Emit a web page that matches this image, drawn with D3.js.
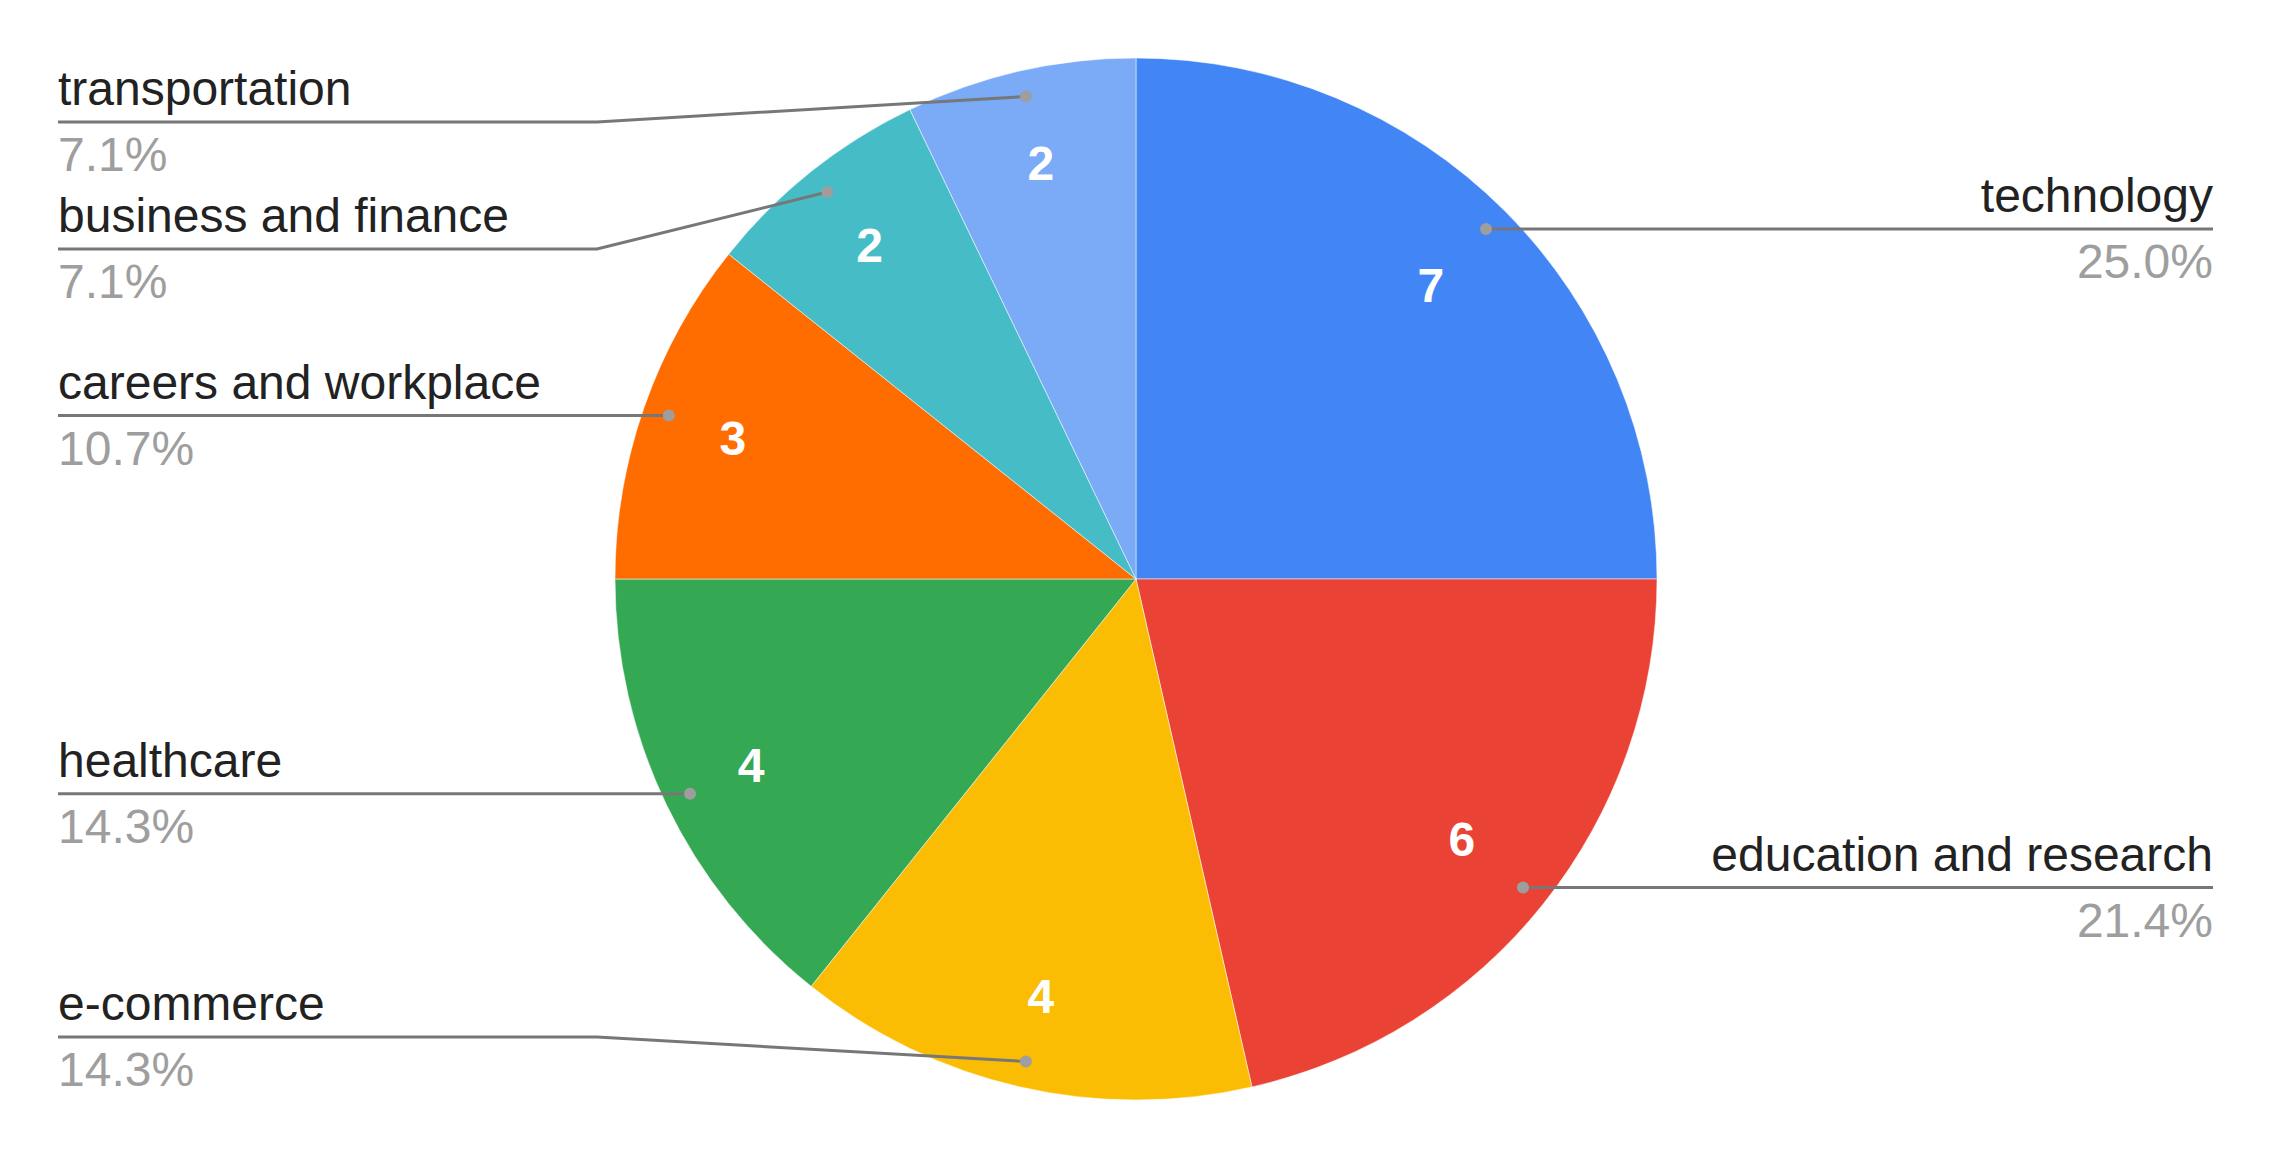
<!DOCTYPE html>
<html>
<head>
<meta charset="utf-8">
<script src="https://cdn.jsdelivr.net/npm/d3@7"></script>
<style>
  body { margin: 0; background: #fff; }
  text { font-family: "Liberation Sans", Arial, sans-serif; }
</style>
</head>
<body>
<div id="chart"></div>
<script>
const categories = ["technology", "education and research", "e-commerce", "healthcare",
    "careers and workplace", "business and finance", "transportation"];
const values = [7, 6, 4, 4, 3, 2, 2];
const colors = ["#4285f4", "#ea4335", "#fbbc04", "#34a853", "#ff6d01", "#46bdc6", "#7baaf7"];

const width = 2271, height = 1159;
const cx = 1136, cy = 579, radius = 521;
const leftX = 58, rightX = 2213;
const elbowOffset = 539;      // horizontal run of a bent leader line
const minGap = 127;           // vertical room for one label block
const topLimit = 122, bottomLimit = 1037;

const total = d3.sum(values);
const data = categories.map((c, i) => ({ name: c, value: values[i], color: colors[i] }));

const svg = d3.select("#chart")
    .append("svg")
    .attr("width", width)
    .attr("height", height);

const g = svg.append("g")
    .attr("transform", `translate(${cx},${cy})`);

const pie = d3.pie().value(d => d.value).sort(null);
const arcs = pie(data);

const arc = d3.arc().innerRadius(0).outerRadius(radius);
const dotArc = d3.arc().innerRadius(radius * 0.95).outerRadius(radius * 0.95);

// narrow slices get their number pushed a little further out
function labelPos(d) {
    const k = (d.endAngle - d.startAngle) > 1.2 ? 0.8 : 0.82;
    return d3.arc().innerRadius(radius * k).outerRadius(radius * k).centroid(d);
}

g.selectAll(".slice")
    .data(arcs)
    .enter()
    .append("path")
    .attr("class", "slice")
    .attr("d", arc)
    .attr("fill", d => d.data.color)
    .attr("stroke", "rgba(255,255,255,0.5)")
    .attr("stroke-width", 1);

g.selectAll(".value-label")
    .data(arcs)
    .enter()
    .append("text")
    .attr("class", "value-label")
    .attr("transform", d => `translate(${labelPos(d)})`)
    .attr("text-anchor", "middle")
    .attr("dy", "0.36em")
    .attr("fill", "#fff")
    .attr("font-weight", "bold")
    .attr("font-size", 48)
    .text(d => d.data.value);

// leader label layout: start at dot height, then push apart
const labels = arcs.map(d => {
    const [dx, dy] = dotArc.centroid(d);
    return { d: d, dotX: cx + dx, dotY: cy + dy, y: cy + dy, right: dx > 0 };
});

function layout(side) {
    side.sort((a, b) => a.y - b.y);
    side.forEach((l, i) => {
        if (l.y > bottomLimit) l.y = bottomLimit;
        if (i > 0 && l.y < side[i - 1].y + minGap) l.y = side[i - 1].y + minGap;
    });
    for (let i = side.length - 1; i >= 0; i--) {
        if (side[i].y > bottomLimit) side[i].y = bottomLimit;
        if (i < side.length - 1 && side[i].y > side[i + 1].y - minGap) side[i].y = side[i + 1].y - minGap;
    }
    side.forEach((l, i) => {
        if (l.y < topLimit) l.y = topLimit;
        if (i > 0 && l.y < side[i - 1].y + minGap) l.y = side[i - 1].y + minGap;
    });
}
layout(labels.filter(l => l.right));
layout(labels.filter(l => !l.right));

const lab = svg.append("g");

labels.forEach(l => {
    const x0 = l.right ? rightX : leftX;
    const elbowX = l.right ? rightX - elbowOffset : leftX + elbowOffset;
    const pts = Math.abs(l.y - l.dotY) < 0.5
        ? [[x0, l.y], [l.dotX, l.dotY]]
        : [[x0, l.y], [elbowX, l.y], [l.dotX, l.dotY]];

    lab.append("path")
        .attr("d", d3.line()(pts))
        .attr("fill", "none")
        .attr("stroke", "#777")
        .attr("stroke-width", 3);

    lab.append("circle")
        .attr("cx", l.dotX)
        .attr("cy", l.dotY)
        .attr("r", 6)
        .attr("fill", "#9e9e9e");

    const anchor = l.right ? "end" : "start";
    lab.append("text")
        .attr("x", x0)
        .attr("y", l.y - 17)
        .attr("text-anchor", anchor)
        .attr("font-size", 48)
        .attr("fill", "#222")
        .text(l.d.data.name);

    lab.append("text")
        .attr("x", x0)
        .attr("y", l.y + 49)
        .attr("text-anchor", anchor)
        .attr("font-size", 48)
        .attr("fill", "#9e9e9e")
        .text((l.d.data.value / total * 100).toFixed(1) + "%");
});
</script>
</body>
</html>
